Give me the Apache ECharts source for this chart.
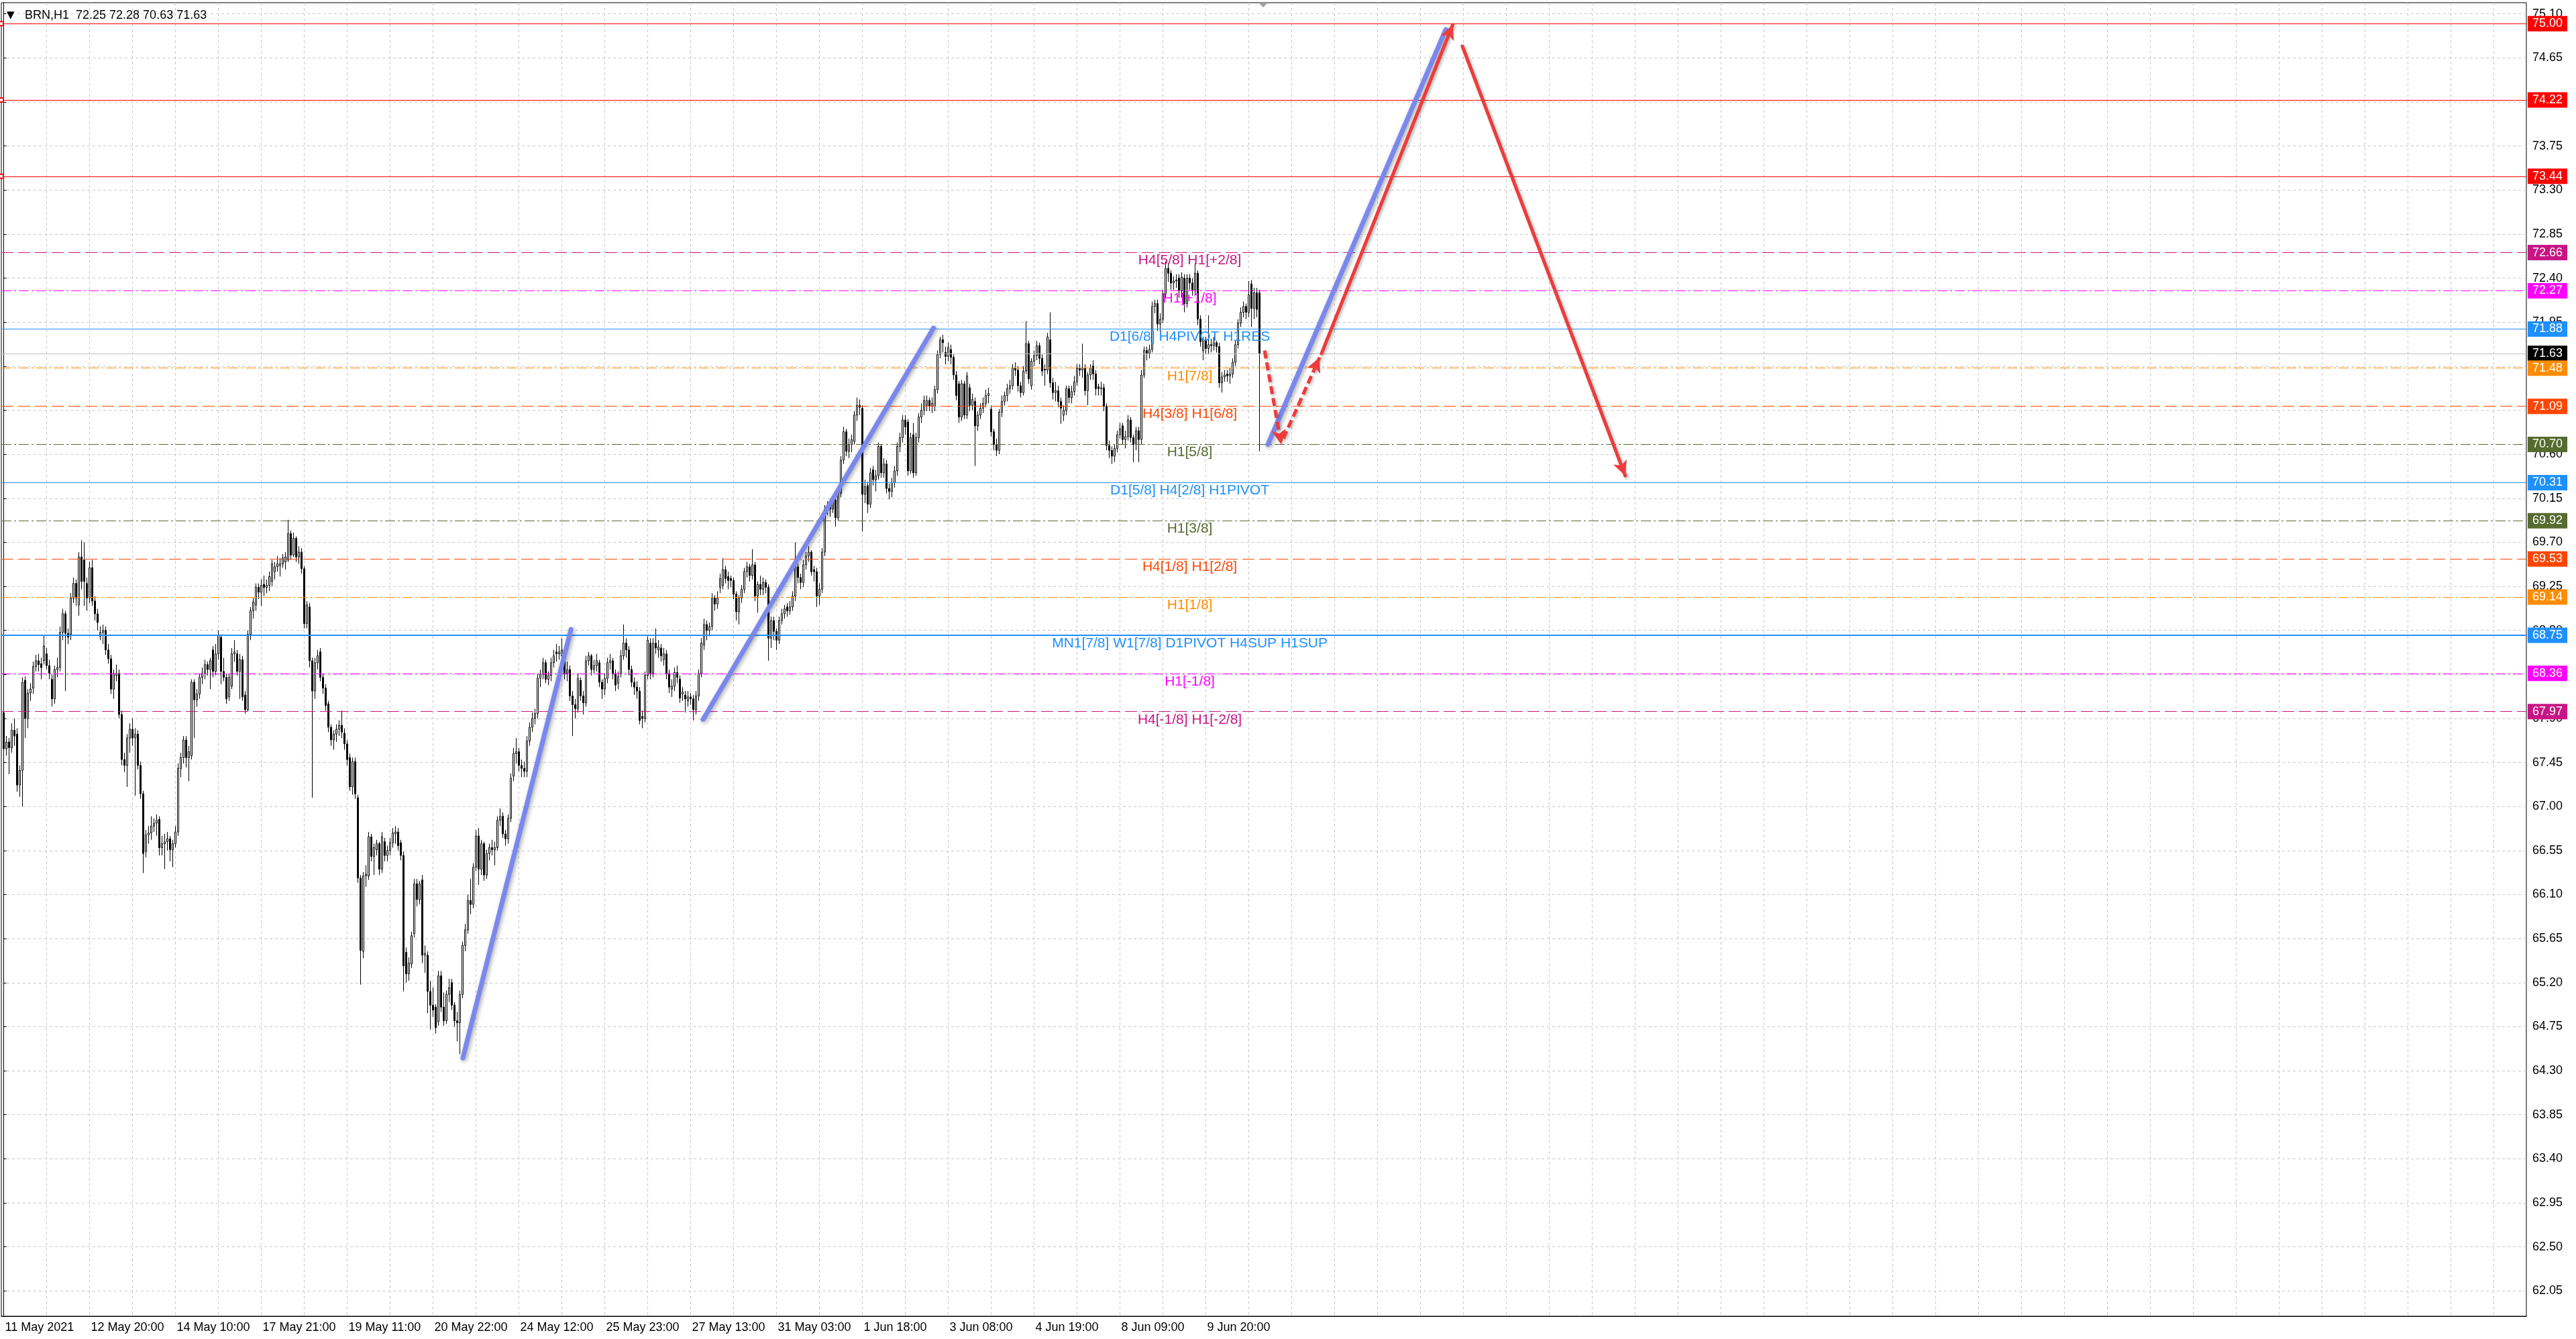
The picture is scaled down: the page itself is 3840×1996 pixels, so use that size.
<!DOCTYPE html>
<html><head><meta charset="utf-8">
<script src="https://cdn.jsdelivr.net/npm/echarts@6/dist/echarts.min.js"></script>
<style>html,body{margin:0;padding:0;background:#fff}#c{width:3840px;height:1996px}</style>
</head><body><div id="c"></div>
<script>
const header = 'BRN,H1  72.25 72.28 70.63 71.63';
const xLabels = ['11 May 2021','12 May 20:00','14 May 10:00','17 May 21:00','19 May 11:00','20 May 22:00','24 May 12:00','25 May 23:00','27 May 13:00','31 May 03:00','1 Jun 18:00','3 Jun 08:00','4 Jun 19:00','8 Jun 09:00','9 Jun 20:00'];
const yTicks = [62.05,62.50,62.95,63.40,63.85,64.30,64.75,65.20,65.65,66.10,66.55,67.00,67.45,67.90,68.35,68.80,69.25,69.70,70.15,70.60,71.05,71.50,71.95,72.40,72.85,73.30,73.75,74.20,74.65,75.10];
// hourly candles: [open, close, low, high]
const ohlc = [
[67.96,67.59,67.50,68.00],[67.59,67.66,67.52,67.72],[67.66,67.60,67.33,67.70],[67.60,67.78,67.55,67.85],[67.78,67.72,67.62,67.90],
[67.74,67.22,67.15,67.80],[67.22,67.37,67.10,67.42],[67.37,68.27,67.00,68.32],[68.29,67.90,67.70,68.33],[67.90,68.16,67.80,68.20],
[68.16,68.20,68.08,68.26],[68.21,68.43,68.15,68.48],[68.43,68.49,68.38,68.55],[68.49,68.45,68.38,68.56],[68.46,68.42,68.30,68.52],
[68.49,68.64,68.45,68.75],[68.56,68.44,68.40,68.62],[68.44,68.36,68.30,68.50],[68.30,68.10,68.02,68.35],[68.10,68.40,68.05,68.44],
[68.40,68.42,68.32,68.52],[68.42,68.78,68.38,68.84],[68.78,68.97,68.70,69.02],[68.97,68.77,68.18,69.00],[68.77,68.73,68.66,68.82],
[68.76,69.13,68.70,69.18],[69.13,69.28,69.08,69.34],[69.28,69.13,69.05,69.32],[69.06,69.55,68.95,69.60],[69.55,69.30,69.22,69.72],
[69.52,69.30,69.05,69.70],[69.28,69.13,69.00,69.34],[69.13,69.44,69.08,69.50],[69.44,69.10,69.05,69.52],[69.10,68.97,68.90,69.15],
[68.97,68.88,68.80,69.02],[68.74,68.78,68.70,68.84],[68.78,68.80,68.66,68.86],[68.80,68.60,68.55,68.84],[68.60,68.51,68.46,68.66],
[68.51,68.20,68.15,68.55],[68.20,68.36,68.10,68.40],[68.34,68.36,68.28,68.45],[68.36,67.94,67.90,68.40],[67.94,67.48,67.42,67.98],
[67.48,67.42,67.35,67.55],[67.42,67.70,67.20,67.74],[67.70,67.79,67.55,67.85],[67.79,67.70,67.62,67.90],[67.70,67.74,67.11,67.80],
[67.74,67.42,67.38,67.78],[67.42,67.13,67.08,67.46],[67.13,66.52,66.32,67.16],[66.54,66.71,66.48,66.76],[66.71,66.73,66.62,66.80],
[66.73,66.80,66.66,66.90],[66.80,66.83,66.74,66.88],[66.83,66.86,66.70,66.92],[66.87,66.58,66.50,66.90],[66.58,66.62,66.50,66.70],
[66.62,66.64,66.36,66.72],[66.64,66.67,66.55,66.74],[66.67,66.56,66.44,66.70],[66.56,66.62,66.38,66.66],[66.62,66.74,66.58,66.80],
[66.74,67.39,66.70,67.44],[67.39,67.50,67.30,67.55],[67.50,67.68,67.44,67.72],[67.68,67.50,67.40,67.72],[67.50,67.56,67.26,67.62],
[67.52,68.27,67.48,68.30],[68.27,68.09,67.70,68.30],[68.09,68.15,68.02,68.20],[68.15,68.32,68.10,68.36],[68.32,68.36,68.25,68.42],
[68.36,68.45,68.30,68.50],[68.45,68.40,68.34,68.48],[68.40,68.49,68.20,68.52],[68.60,68.38,68.32,68.64],[68.38,68.56,68.34,68.66],
[68.56,68.75,68.50,68.80],[68.73,68.38,68.25,68.76],[68.38,68.32,68.28,68.52],[68.32,68.10,68.05,68.36],[68.12,68.32,68.08,68.36],
[68.23,68.56,68.20,68.62],[68.56,68.58,68.48,68.70],[68.56,68.38,68.34,68.60],[68.38,68.50,68.10,68.56],[68.50,68.12,68.08,68.54],
[68.14,67.99,67.95,68.18],[67.99,68.76,67.97,68.80],[68.76,69.00,68.70,69.04],[69.00,69.09,68.92,69.13],[69.06,69.24,69.00,69.28],
[69.24,69.19,69.12,69.28],[69.19,69.26,69.05,69.32],[69.27,69.24,69.15,69.36],[69.24,69.26,69.18,69.32],[69.26,69.35,69.20,69.40],
[69.30,69.48,69.25,69.52],[69.40,69.45,69.32,69.50],[69.45,69.48,69.40,69.56],[69.46,69.48,69.35,69.54],[69.48,69.54,69.44,69.58],
[69.50,69.55,69.42,69.60],[69.52,69.79,69.50,69.93],[69.79,69.57,69.52,69.82],[69.57,69.74,69.55,69.80],[69.74,69.55,69.50,69.76],
[69.55,69.60,69.48,69.66],[69.60,69.43,69.38,69.64],[69.43,68.87,68.82,69.46],[68.87,69.06,68.82,69.10],[69.04,68.49,68.42,69.08],
[68.49,68.18,67.09,68.52],[68.18,68.47,68.10,68.52],[68.47,68.54,68.40,68.60],[68.58,68.32,68.28,68.62],[68.32,68.21,68.15,68.36],
[68.21,68.03,67.98,68.25],[68.05,67.81,67.76,68.08],[67.81,67.68,67.62,67.84],[67.68,67.74,67.58,67.78],[67.74,67.79,67.66,67.84],
[67.79,67.83,67.72,67.88],[67.83,67.76,67.70,67.98],[67.75,67.64,67.58,67.80],[67.64,67.48,67.42,67.68],[67.50,67.20,67.16,67.54],
[67.20,67.46,67.12,67.50],[67.46,67.13,67.08,67.50],[67.09,66.27,66.22,67.12],[66.27,65.53,65.18,66.30],[65.52,66.29,65.45,66.33],
[66.29,66.31,66.18,66.40],[66.29,66.69,66.25,66.74],[66.69,66.49,66.44,66.72],[66.49,66.58,66.30,66.62],[66.56,66.62,66.50,66.66],
[66.62,66.36,66.30,66.64],[66.36,66.69,66.32,66.74],[66.64,66.50,66.44,66.68],[66.50,66.55,66.44,66.60],[66.55,66.63,66.50,66.68],
[66.63,66.73,66.58,66.78],[66.72,66.74,66.62,66.80],[66.74,66.60,66.55,66.78],[66.63,66.50,66.45,66.66],[66.50,65.37,65.11,66.54],
[65.51,65.29,65.20,65.56],[65.29,65.40,65.22,65.46],[65.39,65.68,65.35,65.72],[65.70,66.21,65.66,66.26],[66.21,66.05,65.98,66.26],
[66.05,66.21,66.00,66.24],[66.25,65.48,65.40,66.30],[65.48,65.50,65.30,65.58],[65.48,65.11,64.89,65.52],[65.11,64.97,64.72,65.22],
[64.97,64.92,64.85,65.15],[64.95,64.74,64.68,64.98],[64.80,65.27,64.76,65.32],[65.27,64.95,64.90,65.32],[64.95,64.81,64.76,65.10],
[64.81,65.08,64.78,65.12],[65.08,65.15,65.00,65.24],[65.20,64.97,64.92,65.24],[64.97,64.81,64.75,65.00],[64.81,64.79,64.60,64.90],
[64.79,65.08,64.47,65.12],[65.08,65.58,65.04,65.62],[65.58,65.74,65.52,65.80],[65.74,66.04,65.70,66.10],[66.04,66.00,65.90,66.26],
[66.00,66.38,65.96,66.42],[66.38,66.70,66.34,66.76],[66.70,66.36,66.20,66.78],[66.36,66.62,66.30,66.66],[66.62,66.30,66.24,66.64],
[66.30,66.52,66.26,66.56],[66.52,66.58,66.45,66.62],[66.58,66.56,66.50,66.66],[66.56,66.58,66.40,66.64],[66.58,66.86,66.55,66.90],
[66.86,66.90,66.80,66.98],[66.90,66.72,66.68,66.94],[66.72,66.67,66.60,66.76],[66.67,66.88,66.62,66.92],[66.88,67.29,66.84,67.34],
[67.31,67.54,67.26,67.60],[67.54,67.56,67.44,67.70],[67.56,67.42,67.36,67.60],[67.42,67.39,67.30,67.48],[67.39,67.36,67.30,67.46],
[67.36,67.67,67.30,67.72],[67.67,67.81,67.62,67.86],[67.81,67.90,67.76,67.96],[67.90,67.95,67.84,68.00],[67.95,68.31,67.90,68.36],
[68.31,68.35,68.22,68.40],[68.35,68.47,68.30,68.52],[68.47,68.30,68.26,68.50],[68.30,68.34,68.24,68.38],[68.34,68.47,68.28,68.52],
[68.47,68.54,68.42,68.60],[68.58,68.56,68.48,68.66],[68.56,68.58,68.50,68.64],[68.54,68.60,68.46,68.72],[68.54,68.36,68.30,68.58],
[68.36,68.40,68.28,68.48],[68.40,68.13,68.08,68.44],[68.13,68.04,67.72,68.18],[68.04,68.00,67.90,68.10],[68.00,68.31,67.96,68.36],
[68.29,68.13,68.08,68.32],[68.13,68.06,67.94,68.18],[68.06,68.49,68.02,68.54],[68.49,68.54,68.44,68.58],[68.54,68.40,68.34,68.56],
[68.40,68.44,68.36,68.50],[68.44,68.49,68.38,68.56],[68.47,68.27,68.22,68.50],[68.27,68.20,68.10,68.30],[68.20,68.31,68.14,68.36],
[68.31,68.47,68.26,68.52],[68.47,68.49,68.40,68.56],[68.49,68.36,68.30,68.52],[68.36,68.24,68.18,68.40],[68.26,68.33,68.20,68.38],
[68.36,68.54,68.32,68.60],[68.54,68.67,68.50,68.86],[68.67,68.60,68.52,68.72],[68.60,68.40,68.34,68.64],[68.40,68.27,68.22,68.44],
[68.27,68.22,68.14,68.32],[68.22,68.18,68.10,68.28],[68.18,67.88,67.84,68.22],[67.92,67.90,67.80,67.98],[67.90,68.34,67.86,68.38],
[68.34,68.70,68.30,68.74],[68.67,68.36,68.30,68.72],[68.36,68.67,68.32,68.72],[68.67,68.62,68.56,68.82],[68.60,68.63,68.52,68.70],
[68.62,68.54,68.48,68.66],[68.50,68.56,68.44,68.62],[68.56,68.36,68.30,68.60],[68.36,68.22,68.16,68.40],[68.20,68.23,68.12,68.30],
[68.23,68.37,68.18,68.42],[68.37,68.32,68.26,68.44],[68.30,68.11,68.06,68.34],[68.15,68.17,68.08,68.22],[68.14,68.10,67.96,68.18],
[68.08,68.12,68.02,68.18],[68.12,68.10,68.04,68.16],[68.10,67.99,67.88,68.14],[67.99,68.13,67.94,68.18],[68.13,68.36,68.08,68.40],
[68.36,68.67,68.32,68.72],[68.65,68.86,68.60,68.92],[68.86,68.80,68.70,68.90],[68.80,68.84,68.74,68.88],[68.84,69.13,68.80,69.18],
[69.13,69.07,69.00,69.16],[69.07,69.13,69.02,69.20],[69.24,69.33,69.18,69.38],[69.26,69.42,69.22,69.54],[69.42,69.33,69.28,69.46],
[69.35,69.31,69.22,69.40],[69.33,69.31,69.24,69.36],[69.31,69.17,69.12,69.34],[69.17,68.99,68.90,69.20],[68.99,69.13,68.86,69.16],
[69.13,69.22,69.08,69.26],[69.22,69.40,69.18,69.44],[69.40,69.45,69.34,69.50],[69.45,69.36,69.30,69.48],[69.36,69.47,69.32,69.63],
[69.47,69.15,69.10,69.50],[69.15,69.27,68.98,69.30],[69.27,69.22,69.16,69.36],[69.22,69.29,69.16,69.34],[69.29,69.24,69.18,69.32],
[69.24,68.72,68.49,69.27],[68.72,68.90,68.62,68.94],[68.90,68.79,68.70,68.94],[68.79,68.70,68.60,68.82],[68.70,68.90,68.66,68.94],
[68.90,68.97,68.86,69.02],[68.97,69.02,68.92,69.06],[69.04,69.00,68.94,69.08],[69.00,69.04,68.96,69.10],[69.04,69.15,69.00,69.20],
[69.15,69.45,69.10,69.70],[69.45,69.34,69.28,69.48],[69.34,69.29,69.22,69.38],[69.29,69.47,69.24,69.52],[69.47,69.56,69.42,69.60],
[69.56,69.60,69.50,69.66],[69.60,69.40,69.36,69.62],[69.42,69.40,69.30,69.46],[69.40,69.15,69.04,69.44],[69.15,69.22,69.06,69.28],
[69.22,69.60,69.18,69.64],[69.60,70.04,69.56,70.08],[70.04,70.08,69.98,70.12],[70.08,70.04,69.96,70.14],[70.04,70.13,70.00,70.18],
[70.13,69.95,69.86,70.16],[69.95,70.20,69.92,70.24],[70.20,70.54,70.16,70.58],[70.54,70.83,70.50,70.88],[70.83,70.63,70.58,70.86],
[70.63,70.70,70.56,70.76],[70.70,70.75,70.62,70.80],[70.73,71.00,70.70,71.04],[71.00,71.10,70.94,71.18],[71.10,71.08,71.00,71.16],
[71.07,70.19,69.81,71.10],[70.19,70.27,70.10,70.34],[70.28,70.09,70.00,70.32],[70.09,70.41,70.05,70.46],[70.44,70.34,70.28,70.48],
[70.34,70.38,70.22,70.44],[70.38,70.68,70.34,70.72],[70.68,70.41,70.36,70.70],[70.41,70.50,70.36,70.56],[70.50,70.25,70.20,70.54],
[70.25,70.22,70.14,70.30],[70.22,70.31,70.16,70.36],[70.31,70.43,70.26,70.48],[70.43,70.68,70.38,70.72],[70.68,70.77,70.62,70.82],
[70.77,70.95,70.72,71.00],[70.95,70.88,70.80,71.00],[70.93,70.43,70.38,70.96],[70.43,70.77,70.40,70.82],[70.80,70.41,70.36,70.92],
[70.41,70.77,70.38,70.82],[70.77,70.98,70.72,71.02],[70.98,71.05,70.92,71.12],[71.05,71.15,71.00,71.20],[71.10,71.15,71.04,71.20],
[71.15,71.09,71.04,71.18],[71.09,71.12,71.02,71.18],[71.09,71.26,71.04,71.30],[71.26,71.62,71.22,71.66],[71.62,71.77,71.58,71.80],
[71.77,71.74,71.64,71.82],[71.64,71.60,71.52,71.70],[71.60,71.69,71.55,71.74],[71.67,71.59,71.52,71.72],[71.59,71.41,71.36,71.62],
[71.41,71.20,71.15,71.45],[71.32,70.98,70.92,71.35],[70.98,71.32,70.94,71.36],[71.32,71.00,70.96,71.35],[71.00,71.40,70.96,71.44],
[71.28,71.10,71.04,71.32],[71.10,71.16,71.05,71.22],[71.14,70.89,70.48,71.18],[70.89,71.00,70.84,71.04],[71.00,71.07,70.96,71.12],
[71.07,71.12,71.02,71.18],[71.12,71.20,71.08,71.26],[71.20,71.22,71.12,71.28],[71.06,70.83,70.78,71.10],[70.83,70.70,70.64,70.86],
[70.70,70.64,70.58,70.76],[70.64,71.03,70.60,71.06],[71.03,71.14,70.98,71.20],[71.14,71.20,71.10,71.24],[71.20,71.27,71.14,71.32],
[71.27,71.30,71.22,71.36],[71.30,71.48,71.26,71.52],[71.48,71.46,71.40,71.54],[71.46,71.30,71.24,71.50],[71.30,71.23,71.18,71.34],
[71.23,71.45,71.20,71.50],[71.45,71.73,71.42,71.96],[71.73,71.37,71.32,71.76],[71.30,71.55,71.26,71.58],[71.55,71.61,71.50,71.66],
[71.61,71.71,71.56,71.76],[71.71,71.58,71.52,71.74],[71.58,71.45,71.40,71.62],[71.47,71.46,71.30,71.52],[71.46,71.80,71.42,71.84],
[71.77,71.33,71.28,72.05],[71.33,71.23,71.16,71.38],[71.23,71.25,71.14,71.34],[71.25,71.14,71.08,71.30],[71.14,71.07,70.91,71.18],
[71.00,71.05,70.94,71.10],[71.05,71.27,71.00,71.30],[71.27,71.18,71.12,71.30],[71.18,71.24,71.12,71.30],[71.24,71.34,71.20,71.40],
[71.34,71.48,71.30,71.52],[71.48,71.46,71.40,71.52],[71.46,71.48,71.38,71.73],[71.48,71.25,71.20,71.52],[71.25,71.41,71.10,71.44],
[71.41,71.48,71.36,71.52],[71.50,71.42,71.36,71.56],[71.42,71.27,71.20,71.46],[71.29,71.27,71.20,71.32],[71.27,71.28,71.20,71.34],
[71.28,71.09,71.04,71.32],[71.09,70.69,70.64,71.12],[70.69,70.64,70.56,70.74],[70.64,70.58,70.50,70.68],[70.58,70.66,70.52,70.70],
[70.66,70.80,70.62,70.84],[70.80,70.86,70.76,70.92],[70.89,70.75,70.70,70.92],[70.75,70.78,70.66,70.84],[70.78,70.95,70.74,71.00],
[70.95,70.77,70.72,70.98],[70.77,70.70,70.52,70.80],[70.70,70.84,70.64,70.88],[70.84,70.75,70.52,70.88],[70.75,71.41,70.70,71.46],
[71.41,71.66,71.38,71.70],[71.66,71.63,71.56,71.70],[71.63,71.67,71.58,71.72],[71.67,72.11,71.64,72.16],[72.11,72.14,72.04,72.18],
[72.14,71.93,71.86,72.18],[71.93,71.98,71.85,72.04],[71.98,72.24,71.94,72.28],[72.24,72.50,72.20,72.57],[72.50,72.45,72.36,72.55],
[72.45,72.35,72.28,72.48],[72.35,72.37,72.28,72.42],[72.37,72.38,72.30,72.44],[72.40,72.27,72.20,72.44],[72.27,72.41,72.20,72.46],
[72.40,72.14,72.05,72.44],[72.14,72.40,72.10,72.44],[72.40,72.35,72.28,72.44],[72.35,72.28,72.22,72.40],[72.28,72.45,72.22,72.55],
[72.45,71.98,71.92,72.48],[71.98,71.75,71.70,72.02],[71.66,71.77,71.56,71.80],[71.77,71.68,71.62,71.80],[71.68,71.72,71.62,72.02],
[71.72,71.71,71.64,71.78],[71.71,71.74,71.66,71.80],[71.74,71.70,71.64,71.76],[71.70,71.33,71.28,71.74],[71.33,71.39,71.23,71.44],
[71.39,71.41,71.34,71.46],[71.42,71.40,71.34,71.46],[71.40,71.42,71.32,71.48],[71.42,71.54,71.38,71.58],[71.54,71.72,71.50,71.76],
[71.72,71.94,71.68,71.98],[71.94,72.05,71.90,72.10],[72.05,72.11,72.00,72.16],[72.11,72.05,71.98,72.14],[72.05,72.23,72.00,72.37],
[72.34,72.09,71.90,72.38],[72.09,72.25,71.98,72.30],[72.25,72.08,72.00,72.30],[72.25,71.63,70.63,72.28]
];
const levelPrices = [75.00,74.22,73.44,72.66,72.27,71.88,71.63,71.48,71.09,70.70,70.31,69.92,69.53,69.14,68.75,68.36,67.97];
const levelTexts = ['','','','H4[5/8] H1[+2/8]','H1[+1/8]','D1[6/8] H4PIVOT H1RES','','H1[7/8]','H4[3/8] H1[6/8]','H1[5/8]','D1[5/8] H4[2/8] H1PIVOT','H1[3/8]','H4[1/8] H1[2/8]','H1[1/8]','MN1[7/8] W1[7/8] D1PIVOT H4SUP H1SUP','H1[-1/8]','H4[-1/8] H1[-2/8]'];
// annotation strokes in [bar, price]
const blueLines = [[[171.1,64.43],[211.4,68.81]],[[260.6,67.89],[346.5,71.89]],[[471.1,70.70],[537.4,74.94]]];
const redArrows = [[[491.1,71.63],[540.0,74.99]],[[543.6,74.77],[604.3,70.38]]];
const redDashArrows = [[[469.9,71.66],[476.1,70.70]],[[476.9,70.76],[490.4,71.59]]];

// ---- styles ----
const FONT = '"Liberation Sans", Arial, sans-serif';
const levelColors = ['#ff0000','#ff0000','#ff0000','#c71585','#ff00ff','#1e90ff','#c0c0c0','#ff8c00','#ff4500','#556b2f','#1e90ff','#556b2f','#ff4500','#ff8c00','#1e90ff','#ff00ff','#c71585'];
const levelDash = ['solid','solid','solid','dash','dashdot','solid','solid','dashdot','dash','dashdot','solid','dashdot','dash','dashdot','solid','dashdot','dash'];
const dashMap = {solid:'solid', dash:[18,7], dashdot:[15,4,3,4]};
const BAR0 = -0.875, BAR1 = 940.1, LABEL_STEP = 32, GRID_STEP = 16, TEXT_BAR = 442;

const xLabelBars = xLabels.map((_, i) => i * LABEL_STEP);
const vGrid = [];
for (let b = 0; b <= BAR1; b += GRID_STEP) vGrid.push(b);

const candleData = ohlc.map((d, i) => [i, d[0], d[1], d[2], d[3]]);

const levelLineData = levelPrices.map((p, i) => ({
  yAxis: p,
  symbol: i < 3 ? 'emptyRect' : 'none',
  symbolSize: 6,
  lineStyle: {color: levelColors[i], width: i === 14 ? 2 : 1, type: dashMap[levelDash[i]], opacity: 1},
  label: {
    show: true, position: 'end', distance: 2,
    formatter: () => p.toFixed(2),
    backgroundColor: i === 6 ? '#000000' : levelColors[i],
    color: '#ffffff', padding: [3, 7, 2, 7], fontSize: 18, lineHeight: 18, fontFamily: FONT
  }
}));
const levelTextData = [];
levelTexts.forEach((t, i) => {
  if (t) levelTextData.push({name: t, coord: [TEXT_BAR, levelPrices[i]], label: {color: levelColors[i]}});
});

const arrowData = [];
blueLines.forEach(s => arrowData.push([
  {coord: s[0], symbol: 'none', lineStyle: {color: '#7a88ee', width: 7, type: 'solid', cap: 'round', shadowBlur: 6, shadowColor: 'rgba(0,0,0,0.35)', shadowOffsetX: 2, shadowOffsetY: 2, opacity: 1}},
  {coord: s[1], symbol: 'none'}
]));
redArrows.forEach(s => arrowData.push([
  {coord: s[0], symbol: 'none', lineStyle: {color: '#ee3b3b', width: 5, type: 'solid', cap: 'round', shadowBlur: 4, shadowColor: 'rgba(0,0,0,0.3)', shadowOffsetX: 2, shadowOffsetY: 2, opacity: 1}},
  {coord: s[1], symbol: 'arrow', symbolSize: [16, 22]}
]));
redDashArrows.forEach(s => arrowData.push([
  {coord: s[0], symbol: 'none', lineStyle: {color: '#ee3b3b', width: 5, type: [12, 6], shadowBlur: 4, shadowColor: 'rgba(0,0,0,0.3)', shadowOffsetX: 2, shadowOffsetY: 2, opacity: 1}},
  {coord: s[1], symbol: 'arrow', symbolSize: [16, 22]}
]));

const chart = echarts.init(document.getElementById('c'), null, {renderer: 'canvas'});
chart.setOption({
  animation: false,
  backgroundColor: '#ffffff',
  title: [
    {text: '\u25BC', left: 5, top: 11, textStyle: {fontSize: 15, color: '#000', fontWeight: 'normal', fontFamily: '"DejaVu Sans", sans-serif'}},
    {text: header, left: 32, top: 9, textStyle: {fontSize: 18, color: '#000', fontWeight: 'normal', fontFamily: FONT}}
  ],
  graphic: [
    {type: 'polygon', shape: {points: [[1876, 4], [1890, 4], [1883, 11]]}, style: {fill: '#a0a0a0'}, z: 100}
  ],
  grid: {left: 2, right: 74, top: 4, bottom: 34, show: true, borderColor: '#000', borderWidth: 1, backgroundColor: '#fff', containLabel: false, outerBoundsMode: 'none'},
  xAxis: {
    type: 'value', min: BAR0, max: BAR1,
    axisLine: {show: true, lineStyle: {color: '#000', width: 1}},
    axisTick: {show: false, customValues: vGrid},
    axisLabel: {customValues: xLabelBars, formatter: v => xLabels[Math.round(v / LABEL_STEP)] || '', align: 'left', padding: [0, 0, 0, 2], margin: 8, fontSize: 18, color: '#000', fontFamily: FONT},
    splitLine: {show: true, lineStyle: {color: '#c8c8c8', type: [4, 4], width: 1}}
  },
  yAxis: {
    type: 'value', position: 'right', min: 61.7915, max: 75.2145, scale: true,
    axisLine: {show: true, lineStyle: {color: '#000', width: 1}},
    axisTick: {show: true, length: 4, customValues: yTicks, lineStyle: {color: '#000'}},
    axisLabel: {customValues: yTicks, formatter: v => Number(v).toFixed(2), margin: 9, fontSize: 18, color: '#000', fontFamily: FONT},
    splitLine: {show: true, lineStyle: {color: '#c8c8c8', type: [4, 4], width: 1}}
  },
  series: [
    {
      type: 'line', data: [], z: 1, silent: true,
      markLine: {silent: true, animation: false, symbol: 'none', precision: 2, data: levelLineData},
      markPoint: {
        silent: true, animation: false, symbol: 'circle', symbolSize: 1,
        itemStyle: {color: 'rgba(0,0,0,0)'},
        label: {show: true, position: 'bottom', distance: 1, formatter: '{b}', fontSize: 21, fontFamily: FONT},
        data: levelTextData
      }
    },
    {
      type: 'candlestick', z: 2, silent: true,
      data: candleData,
      encode: {x: 0, y: [1, 2, 3, 4]},
      barWidth: 2,
      itemStyle: {color: '#ffffff', color0: '#000000', borderColor: '#000000', borderColor0: '#000000', borderWidth: 1}
    },
    {
      type: 'line', data: [], z: 5, silent: true,
      markLine: {silent: true, animation: false, symbol: 'none', label: {show: false}, data: arrowData}
    }
  ]
});
</script>
</body></html>
